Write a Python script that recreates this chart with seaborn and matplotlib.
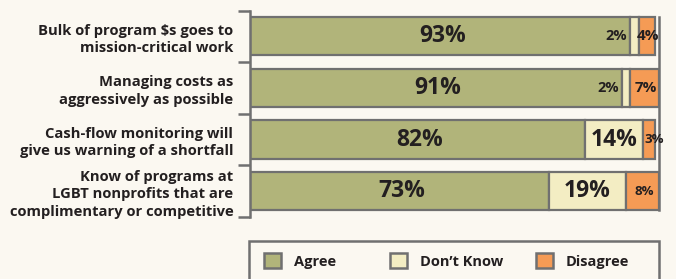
import matplotlib
matplotlib.use("Agg")
import matplotlib.pyplot as plt
import seaborn as sns
import pandas as pd
import numpy as np
from matplotlib.patches import Rectangle, Patch

categories = [
    "Bulk of program $s goes to\nmission-critical work",
    "Managing costs as\naggressively as possible",
    "Cash-flow monitoring will\ngive us warning of a shortfall",
    "Know of programs at\nLGBT nonprofits that are\ncomplimentary or competitive",
]
agree = [93, 91, 82, 73]
dont_know = [2, 2, 14, 19]
disagree = [4, 7, 3, 8]
series_names = ["Agree", "Don\u2019t Know", "Disagree"]
colors = ["#B1B47A", "#F3EDC3", "#F59B55"]

BG = "#FBF8F1"
EDGE = "#707070"
TXT = "#231F20"

sns.set_theme(style="white")
plt.rcParams["font.family"] = ["Open Sans", "DejaVu Sans"]

fig = plt.figure(figsize=(6.76, 2.79), dpi=100, facecolor=BG)
W, H = 676, 279
ax = fig.add_axes([250 / W, 1 - 217 / H, (659 - 250) / W, (217 - 10.5) / H])
ax.set_facecolor(BG)

df = pd.DataFrame({"cat": categories, "Agree": agree,
                   "Dont": dont_know, "Dis": disagree})
left = np.zeros(len(categories))
cols = ["Agree", "Dont", "Dis"]
for col, c in zip(cols, colors):
    sns.barplot(data=df, y="cat", x=col, orient="h", color=c, ax=ax,
                width=0.74, left=left, edgecolor=EDGE, linewidth=1.6,
                saturation=1)
    left = left + df[col].values

ax.set_xlim(0, 100)
ax.set_ylim(3.5, -0.5)
ax.set_xlabel("")
ax.set_ylabel("")
ax.set_xticks([])

for s in ["top", "bottom"]:
    ax.spines[s].set_visible(False)
ax.spines["left"].set_color(EDGE)
ax.spines["left"].set_linewidth(1.8)
ax.spines["right"].set_color(EDGE)
ax.spines["right"].set_linewidth(1.8)
ax.spines["right"].set_bounds(-0.37, 3.37)

ax.set_yticks(range(len(categories)))
ax.set_yticklabels(categories, fontsize=10.6, fontweight="bold", color=TXT,
                   linespacing=1.3)
ax.tick_params(axis="y", which="major", length=0, pad=12)
ax.set_yticks(np.arange(-0.5, len(categories), 1), minor=True)
ax.tick_params(axis="y", which="minor", length=9, width=1.8, color=EDGE,
               left=True)

# value labels
for i in range(len(categories)):
    a, d, g = agree[i], dont_know[i], disagree[i]
    ax.text(a / 2 + 0.5, i, f"{a}%", ha="center", va="center", fontsize=16.5,
            fontweight="bold", color=TXT)
    if d >= 10:
        ax.text(a + d / 2, i, f"{d}%", ha="center", va="center", fontsize=16.5,
                fontweight="bold", color=TXT)
    else:
        ax.text(a - 0.8, i, f"{d}%", ha="right", va="center", fontsize=10.5,
                fontweight="bold", color=TXT)
    if i == 2:
        ax.text(a + d + g / 2 - 1.0, i, f"{g}%", ha="left", va="center",
                fontsize=9.5, fontweight="bold", color=TXT, clip_on=False)
    else:
        fs = 11 if g < 8 else 9.5
        ax.text(a + d + g / 2 + 0.3, i, f"{g}%", ha="center", va="center",
                fontsize=fs, fontweight="bold", color=TXT, clip_on=False)

# legend box
fig.patches.append(Rectangle((249 / W, -0.05), (659 - 249) / W,
                             1 - 241 / H + 0.05, transform=fig.transFigure,
                             facecolor=BG, edgecolor=EDGE, linewidth=1.8))
leg_x = [258, 384, 530]
for name, c, lx in zip(series_names, colors, leg_x):
    h = Patch(facecolor=c, edgecolor=EDGE, linewidth=1.8)
    lg = fig.legend([h], [name], frameon=False, loc="center left",
                    bbox_to_anchor=(lx / W, 1 - 261 / H), borderaxespad=0,
                    prop={"weight": "bold", "size": 10.5},
                    handlelength=1.15, handleheight=1.15, handletextpad=0.9)
    for t in lg.get_texts():
        t.set_color(TXT)

fig.savefig("out.png", dpi=100, facecolor=BG)
